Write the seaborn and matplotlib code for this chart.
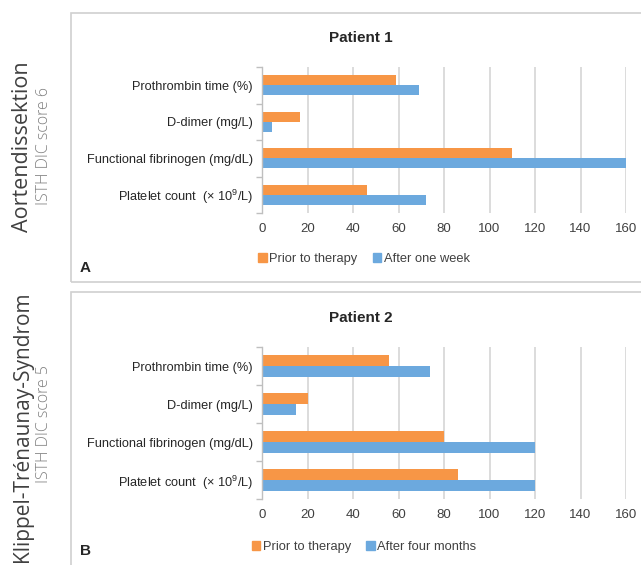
import matplotlib
matplotlib.use("Agg")
import matplotlib.pyplot as plt
from matplotlib.patches import Rectangle, Patch
import seaborn as sns
import pandas as pd

categories = ["Prothrombin time (%)", "D-dimer (mg/L)",
              "Functional fibrinogen (mg/dL)", "Platelet count  (× 10$^\\mathregular{9}$/L)"]
p1_prior = [59, 16.5, 110, 46]
p1_after = [69, 4.5, 160, 72]
p2_prior = [56, 20, 80, 86]
p2_after = [74, 15, 120, 120]
xticks = [0, 20, 40, 60, 80, 100, 120, 140, 160]
titles = ["Patient 1", "Patient 2"]
after_labels = ["After one week", "After four months"]
panel_letters = ["A", "B"]
diseases = ["Aortendissektion", "Klippel-Trénaunay-Syndrom"]
scores = ["ISTH DIC score 6", "ISTH DIC score 5"]

ORANGE = "#F79646"
BLUE = "#6CA9DE"
W, H = 641, 565

sns.set_theme(style="white")
plt.rcParams["font.family"] = ["Liberation Sans", "DejaVu Sans"]
plt.rcParams["mathtext.default"] = "regular"

fig = plt.figure(figsize=(W / 100, H / 100), dpi=100)

def fx(px):
    return px / W

def fy(py):
    return 1 - py / H

panels = [
    dict(box=(13, 282), ax=(67, 213), title=38, legend=259, letter=268,
         center=147, score_center=146, dsize=15.5),
    dict(box=(292, 585), ax=(347, 499), title=318, legend=547, letter=551,
         center=427, score_center=424, dsize=15.0),
]

data_sets = [(p1_prior, p1_after), (p2_prior, p2_after)]

for i, (geo, (prior, after)) in enumerate(zip(panels, data_sets)):
    bt, bb = geo["box"]
    fig.patches.append(Rectangle((fx(71), fy(bb)), fx(700 - 71), (bb - bt) / H,
                                 transform=fig.transFigure, fill=False,
                                 edgecolor="#D0D0D0", linewidth=1.2, zorder=0))
    at, ab = geo["ax"]
    ax = fig.add_axes([fx(262), fy(ab), fx(626 - 262), (ab - at) / H])
    df = pd.DataFrame({
        "category": categories * 2,
        "value": list(prior) + list(after),
        "series": ["Prior to therapy"] * 4 + [after_labels[i]] * 4,
    })
    sns.barplot(data=df, x="value", y="category", hue="series", orient="h",
                palette=[ORANGE, BLUE], width=0.56, ax=ax, legend=False,
                saturation=1, linewidth=0)
    ax.set_xlim(0, 160)
    ax.set_ylim(3.5, -0.5)
    ax.set_xticks(xticks)
    ax.set_xticklabels([str(t) for t in xticks])
    ax.grid(axis="x", color="#D9D9D9", linewidth=1.3)
    ax.set_axisbelow(True)
    for s in ["top", "right", "bottom"]:
        ax.spines[s].set_visible(False)
    ax.spines["left"].set_color("#BFBFBF")
    ax.spines["left"].set_linewidth(1.0)
    ax.set_xlabel("")
    ax.set_ylabel("")
    ax.tick_params(axis="x", length=0, pad=7, labelsize=9.5, labelcolor="#404040")
    ax.tick_params(axis="y", which="major", length=0, pad=6.5, labelsize=9.2, labelcolor="#262626")
    ax.set_yticks([-0.5, 0.5, 1.5, 2.5, 3.5], minor=True)
    ax.tick_params(axis="y", which="minor", length=4, color="#BFBFBF", width=1.0, left=True)
    fig.text(fx(361), fy(geo["title"]), titles[i], ha="center", va="center",
             fontsize=11, fontweight="bold", color="#262626")
    handles = [Patch(color=ORANGE, label="Prior to therapy"),
               Patch(color=BLUE, label=after_labels[i])]
    fig.legend(handles=handles, loc="center", bbox_to_anchor=(fx(364), fy(geo["legend"])),
               ncol=2, frameon=False, fontsize=9.3, handlelength=0.65, handleheight=0.65,
               handletextpad=0.2, columnspacing=1.2, labelcolor="#404040")
    fig.text(fx(80), fy(geo["letter"]), panel_letters[i], ha="left", va="center",
             fontsize=11, fontweight="bold", color="#262626")
    fig.text(fx(23), fy(geo["center"]), diseases[i], rotation=90, ha="center", va="center",
             fontsize=geo["dsize"], family=["Open Sans", "DejaVu Sans"], color="#404040")
    fig.text(fx(44), fy(geo["score_center"]), scores[i], rotation=90, ha="center", va="center",
             fontsize=11.5, family=["Open Sans", "DejaVu Sans"], fontweight="light", color="#808080")

fig.savefig("out.png", dpi=100)
